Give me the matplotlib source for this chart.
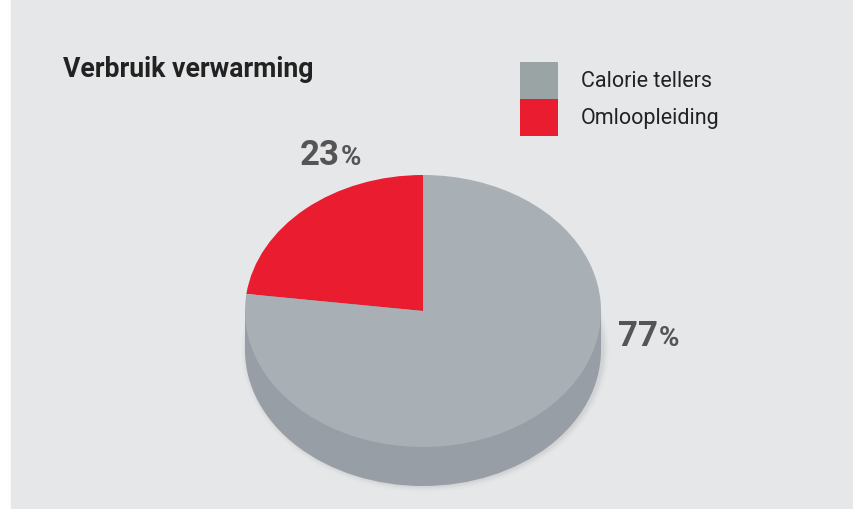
import numpy as np
import matplotlib.pyplot as plt
from matplotlib.patches import Wedge, Ellipse, Rectangle
from matplotlib.transforms import Affine2D

plt.rcParams['font.family'] = ['Roboto', 'DejaVu Sans']

labels = ['Calorie tellers', 'Omloopleiding']
shares = [77, 23]
colors = ['#a8afb5', '#e91d2f']
legend_colors = ['#9ba4a4', '#e91d2f']
side_color = '#979ea5'

W, H = 854, 509
fig = plt.figure(figsize=(W / 100, H / 100), dpi=100)
fig.patch.set_facecolor('white')
ax = fig.add_axes([0, 0, 1, 1])
ax.set_xlim(0, W)
ax.set_ylim(H, 0)
ax.axis('off')

# panel
ax.add_patch(Rectangle((11, 0), W - 11, H, color='#e6e7e8', zorder=0))

# pie geometry (pixels)
cx, cy, rx, ry, depth = 423, 311, 178, 136, 39

# soft shadow
for k, a in zip(range(6, 0, -1), [0.015, 0.02, 0.03, 0.04, 0.05, 0.06]):
    ax.add_patch(Ellipse((cx + 2, cy + depth), 2 * rx + k * 2, 2 * ry + k * 2,
                         color='#8a9096', alpha=a, lw=0, zorder=1))

# side of the cylinder
ax.add_patch(Ellipse((cx, cy + depth), 2 * rx, 2 * ry, color=side_color, lw=0, zorder=2))
ax.add_patch(Rectangle((cx - rx, cy), 2 * rx, depth, color=side_color, lw=0, zorder=2))

# top face
tr = Affine2D().scale(rx, -ry).translate(cx, cy) + ax.transData
start = 90
for val, col in zip(shares[::-1], colors[::-1]):
    sweep = 360 * val / sum(shares)
    ax.add_patch(Wedge((0, 0), 1, start, start + sweep, color=col, lw=0,
                       transform=tr, zorder=3))
    start += sweep

# percentage labels
pct_pos = [(618, 346, 659), (300, 165, 341)]
for val, (x, y, xp) in zip(shares, pct_pos):
    ax.text(x, y, str(val), fontsize=25, fontweight='bold', color='#555555',
            ha='left', va='baseline')
    ax.text(xp, y, '%', fontsize=20, fontweight='bold', color='#555555',
            ha='left', va='baseline')

# title
ax.text(63, 77, 'Verbruik verwarming', fontsize=19.2, fontweight='bold', color='#222222',
        ha='left', va='baseline')

# legend
for i, (lab, col) in enumerate(zip(labels, legend_colors)):
    y0 = 62 + i * 37
    ax.add_patch(Rectangle((520, y0), 38, 37, color=col, lw=0))
    ax.text(581, y0 + 19.5, lab, fontsize=15.5, color='#222222', ha='left', va='center')

fig.savefig('out.png', dpi=100, facecolor=fig.get_facecolor())
